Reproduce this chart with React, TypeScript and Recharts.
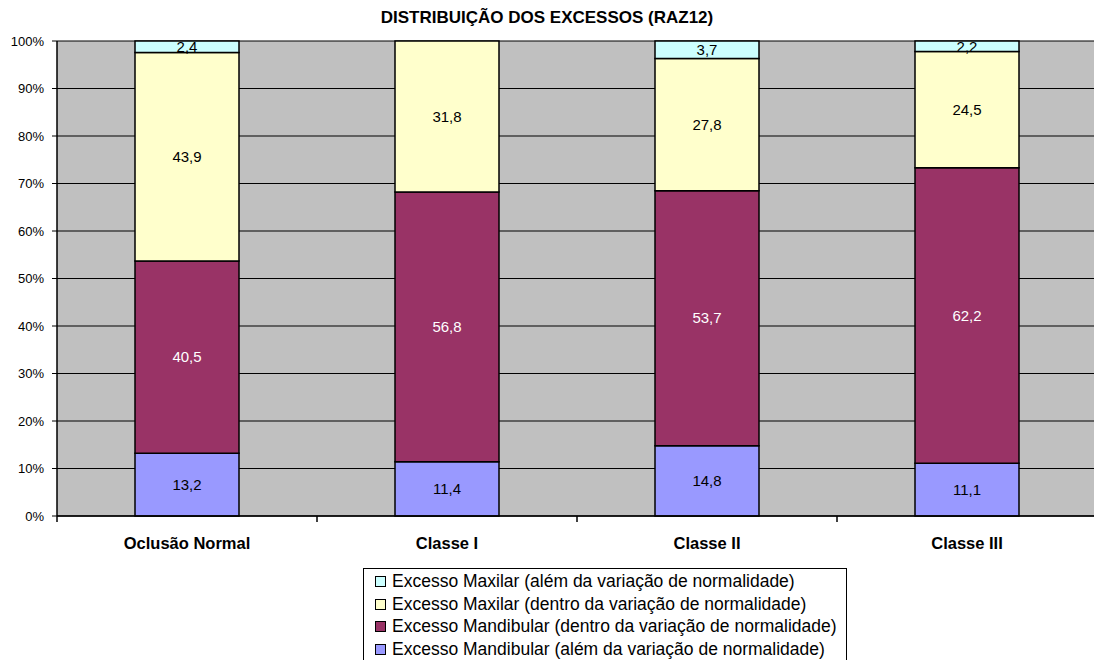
import { BarChart, Bar, XAxis, YAxis, CartesianGrid, Legend, LabelList } from 'recharts';

const CATEGORIES = ['Oclusão Normal', 'Classe I', 'Classe II', 'Classe III'];

// stacked bottom -> top
const MAND_ALEM = [13.2, 11.4, 14.8, 11.1];
const MAND_DENTRO = [40.5, 56.8, 53.7, 62.2];
const MAX_DENTRO = [43.9, 31.8, 27.8, 24.5];
const MAX_ALEM = [2.4, 0, 3.7, 2.2];

const Y_TICKS = [0, 10, 20, 30, 40, 50, 60, 70, 80, 90, 100];

const SERIES = [
  { key: 'mandAlem', name: 'Excesso Mandibular (além da variação de normalidade)', color: '#9999FF', label: '#000' },
  { key: 'mandDentro', name: 'Excesso Mandibular (dentro da variação de normalidade)', color: '#993366', label: '#fff' },
  { key: 'maxDentro', name: 'Excesso Maxilar (dentro da variação de normalidade)', color: '#FFFFCC', label: '#000' },
  { key: 'maxAlem', name: 'Excesso Maxilar (além da variação de normalidade)', color: '#CCFFFF', label: '#000' },
];

const data = CATEGORIES.map((name, i) => ({
  name,
  mandAlem: MAND_ALEM[i],
  mandDentro: MAND_DENTRO[i],
  maxDentro: MAX_DENTRO[i],
  maxAlem: MAX_ALEM[i],
}));

const FONT = '"Liberation Sans", Arial, sans-serif';
const TICK_SIZE = 6;
const TICK_MARGIN = 15;

const fmt = (v: any) => (v ? String(v).replace('.', ',') : '');

// category label at the band centre, tick marks on the band boundaries (Excel style)
function CategoryTick(props: any) {
  const { x, y, payload, index, visibleTicksCount } = props;
  const half = payload.offset ?? 0;
  const axisY = y - TICK_SIZE - TICK_MARGIN;
  const isLast = index === visibleTicksCount - 1;
  return (
    <g>
      <line x1={x - half} x2={x - half} y1={axisY} y2={axisY + TICK_SIZE} stroke="#000" strokeWidth={1.5} />
      {isLast && (
        <line x1={x + half} x2={x + half} y1={axisY} y2={axisY + TICK_SIZE} stroke="#000" strokeWidth={1.5} />
      )}
      <text
        x={x}
        y={y}
        dy="0.71em"
        textAnchor="middle"
        fill="#000"
        style={{ fontSize: 16.5, fontWeight: 'bold', fontFamily: FONT }}
      >
        {payload.value}
      </text>
    </g>
  );
}

function LegendBox() {
  return (
    <div
      style={{
        border: '1.5px solid #000',
        background: '#fff',
        padding: '1px 4px 10px 11px',
        fontFamily: FONT,
        fontSize: 17.5,
        color: '#000',
        boxSizing: 'border-box',
        width: 484,
      }}
    >
      {[...SERIES].reverse().map((s) => (
        <div key={s.key} style={{ display: 'flex', alignItems: 'center', height: 22.7, whiteSpace: 'nowrap' }}>
          <span
            style={{
              display: 'inline-block',
              width: 9,
              height: 9,
              background: s.color,
              border: '1.5px solid #000',
              marginRight: 6,
            }}
          />
          <span>{s.name}</span>
        </div>
      ))}
    </div>
  );
}

export default function App() {
  return (
    <div
      style={{
        position: 'absolute',
        left: 0,
        top: 0,
        width: 1094,
        height: 660,
        overflow: 'hidden',
        background: '#fff',
        fontFamily: FONT,
      }}
    >
      <div
        style={{
          position: 'absolute',
          top: 8,
          left: 0,
          width: 1094,
          textAlign: 'center',
          fontWeight: 'bold',
          fontSize: 17,
        }}
      >
        DISTRIBUIÇÃO DOS EXCESSOS (RAZ12)
      </div>
      <BarChart
        width={1100}
        height={660}
        data={data}
        margin={{ top: 41, right: 3, left: 0, bottom: 98 }}
        barCategoryGap="30%"
      >
        <CartesianGrid vertical={false} stroke="#000" fill="#C0C0C0" fillOpacity={1} />
        <XAxis
          dataKey="name"
          height={46}
          stroke="#000"
          axisLine={{ stroke: '#000', strokeWidth: 1.5 }}
          tickLine={false}
          tickSize={TICK_SIZE}
          tickMargin={TICK_MARGIN}
          interval={0}
          tick={<CategoryTick />}
        />
        <YAxis
          domain={[0, 100]}
          ticks={Y_TICKS}
          width={57}
          tickFormatter={(v) => `${v}%`}
          tickSize={5}
          tickMargin={8}
          stroke="#000"
          axisLine={{ stroke: '#000', strokeWidth: 1.5 }}
          tick={{ fill: '#000', fontSize: 13, fontFamily: FONT }}
        />
        <Legend
          layout="horizontal"
          verticalAlign="middle"
          align="center"
          wrapperStyle={{ top: 568, left: 363, width: 484 }}
          content={() => <LegendBox />}
        />
        {SERIES.map((s) => (
          <Bar
            key={s.key}
            dataKey={s.key}
            name={s.name}
            stackId="a"
            fill={s.color}
            stroke="#000"
            strokeWidth={1.5}
            isAnimationActive={false}
          >
            <LabelList
              dataKey={s.key}
              position="center"
              formatter={fmt}
              fill={s.label}
              style={{ fontSize: 15, fontFamily: FONT }}
            />
          </Bar>
        ))}
      </BarChart>
    </div>
  );
}
